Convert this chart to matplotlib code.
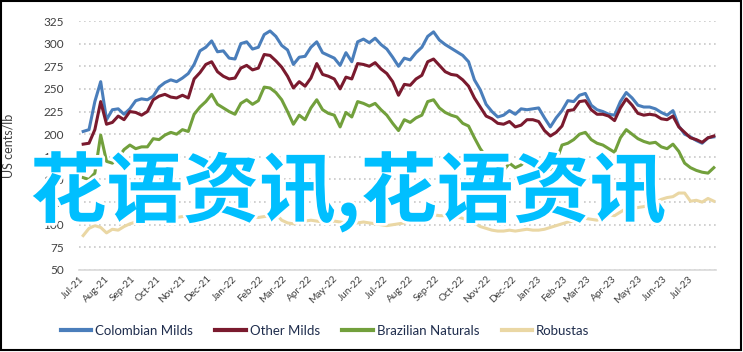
import numpy as np
import pandas as pd
import matplotlib
matplotlib.use("Agg")
import matplotlib.pyplot as plt
import matplotlib.dates as mdates
import matplotlib.patheffects as pe
from matplotlib.patches import Rectangle

plt.rcParams["font.family"] = ["Lato", "DejaVu Sans"]

# weekly readings, US cents/lb
dates = pd.date_range("2021-07-06", periods=109, freq="7D")
month_ticks = pd.date_range("2021-07-01", "2023-07-01", freq="MS")

colombian_milds = [
    203, 205, 236, 258, 216, 227, 228, 222, 228, 237, 239, 238, 242, 252, 257, 260, 258, 262, 267, 277,
    292, 296, 303, 291, 292, 284, 283, 300, 302, 294, 296, 310, 314, 308, 298, 293, 277, 285, 286, 296,
    302, 290, 287, 284, 276, 290, 280, 302, 305, 301, 306, 299, 294, 285, 275, 284, 282, 290, 296, 308,
    313, 304, 299, 295, 291, 287, 280, 260, 249, 233, 225, 219, 221, 226, 222, 228, 227, 228, 229, 218,
    208, 218, 226, 237, 236, 243, 245, 232, 227, 225, 222, 221, 236, 246, 240, 232, 230, 230, 228, 224,
    221, 226, 209, 200, 197, 193, 190, 196, 197,
]
other_milds = [
    189, 190, 205, 236, 211, 213, 220, 216, 225, 224, 221, 225, 238, 242, 244, 241, 240, 243, 240, 261,
    268, 277, 280, 269, 264, 261, 262, 273, 276, 271, 273, 288, 287, 281, 274, 264, 251, 258, 253, 262,
    278, 266, 264, 261, 250, 263, 261, 278, 277, 275, 279, 272, 267, 258, 243, 255, 254, 261, 265, 280,
    283, 276, 269, 266, 265, 260, 253, 240, 230, 220, 217, 212, 211, 214, 208, 210, 216, 216, 214, 204,
    198, 202, 209, 226, 227, 236, 237, 227, 222, 222, 220, 215, 229, 239, 232, 223, 221, 222, 221, 217,
    216, 220, 208, 202, 196, 194, 191, 196, 198,
]
brazilian_naturals = [
    152, 150, 157, 199, 170, 168, 174, 183, 188, 184, 186, 186, 195, 194, 199, 202, 200, 205, 203, 222,
    230, 236, 244, 233, 229, 225, 222, 234, 238, 233, 237, 252, 251, 246, 238, 225, 211, 221, 216, 229,
    238, 227, 223, 221, 208, 224, 219, 236, 234, 231, 234, 227, 221, 212, 204, 216, 213, 218, 221, 236,
    238, 229, 224, 221, 219, 212, 209, 196, 184, 175, 170, 168, 160, 168, 163, 166, 172, 166, 167, 172,
    161, 170, 188, 190, 194, 200, 202, 194, 190, 188, 184, 180, 196, 205, 200, 195, 192, 190, 191, 186,
    184, 189, 181, 168, 163, 160, 158, 157, 163,
]
robustas = [
    88, 96, 99, 97, 91, 95, 94, 98, 101, 103, 105, 104, 106, 105, 107, 105, 108, 109, 110, 110,
    111, 112, 113, 113, 116, 114, 116, 113, 110, 109, 108, 109, 110, 112, 105, 102, 101, 103, 104, 105,
    104, 103, 103, 104, 103, 102, 101, 102, 103, 102, 101, 100, 99, 100, 101, 102, 103, 104, 106, 111,
    111, 110, 110, 110, 109, 107, 105, 102, 98, 96, 94, 93, 93, 94, 93, 94, 95, 94, 94, 95,
    97, 99, 101, 103, 104, 105, 107, 106, 105, 108, 111, 110, 114, 118, 118, 119, 120, 122, 125, 128,
    130, 131, 135, 135, 126, 127, 125, 129, 126,
]

series_names = ["Colombian Milds", "Other Milds", "Brazilian Naturals", "Robustas"]
series_values = [colombian_milds, other_milds, brazilian_naturals, robustas]
series_colors = ["#4A7EBB", "#7A1A2E", "#72A03C", "#EAD7A4"]

W, H = 743, 352
fig = plt.figure(figsize=(W / 100, H / 100), dpi=100)
ax = fig.add_axes([79 / W, 1 - 270 / H, (715.5 - 79) / W, (270 - 21) / H])

for name, vals, col in zip(series_names, series_values, series_colors):
    ax.plot(dates, vals, color=col, lw=2.2, label=name, solid_joinstyle="round")

ax.set_ylim(50, 325)
ax.set_yticks(np.arange(50, 326, 25))
ax.set_xlim(pd.Timestamp("2021-07-01"), pd.Timestamp("2023-08-03"))
ax.set_xticks(month_ticks)
ax.xaxis.set_major_formatter(mdates.DateFormatter("%b-%y"))

ax.grid(axis="y", color="#C8C8C8", linestyle=(0, (1, 2)), lw=1.2)
ax.set_axisbelow(True)
for side in ["top", "right", "left"]:
    ax.spines[side].set_visible(False)
ax.spines["bottom"].set_color("#D9D9D9")
ax.spines["bottom"].set_linewidth(1.2)
ax.tick_params(axis="both", length=0, colors="#404040")
ax.tick_params(axis="y", labelsize=8.5, pad=11)
ax.tick_params(axis="x", labelsize=7.2, pad=3)
for lbl in ax.get_xticklabels():
    lbl.set_rotation(45)
    lbl.set_ha("right")
    lbl.set_rotation_mode("anchor")

ax.set_ylabel("US cents/lb", fontsize=9, color="#404040")
ax.yaxis.set_label_coords(-0.1015, 0.5)

leg = fig.legend(loc="center", bbox_to_anchor=(325 / W, 1 - 331 / H), ncol=4, frameon=False,
                 fontsize=9.5, handlelength=2.3, handletextpad=0.3, columnspacing=1.7)
for line in leg.get_lines():
    line.set_linewidth(3)
for t in leg.get_texts():
    t.set_color("#1F2D4D")

fig.text(348 / W, 1 - 192 / H, "花语资讯,花语资讯", fontsize=55, fontweight="bold",
         color="#00BFFF", ha="center", va="center",
         family=["Noto Sans CJK SC", "DejaVu Sans"],
         path_effects=[pe.withStroke(linewidth=4, foreground="white")])

fig.patches.append(Rectangle((0.5 / W, 1 - 350 / H), 740 / W, 349 / H, transform=fig.transFigure,
                             fill=False, edgecolor="black", lw=1.5))

fig.savefig("out.png", dpi=100)
